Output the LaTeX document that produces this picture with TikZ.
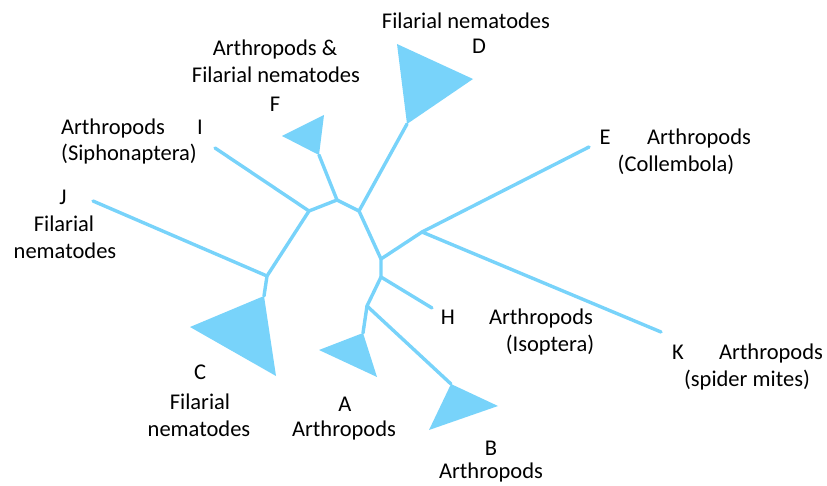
\documentclass[tikz,border=0pt]{standalone}
\usepackage{fontspec}
\setmainfont{Carlito}
\definecolor{tree}{RGB}{120,211,250}
\begin{document}
\begin{tikzpicture}[x=1pt,y=-1pt,
  branch/.style={draw=tree,line width=3.4pt,line cap=round,line join=round},
  clade/.style={fill=tree,draw=none},
  lbl/.style={anchor=base,inner sep=0pt,font=\fontsize{22.5}{27}\selectfont}]
\useasboundingbox (0,0) rectangle (827,486);
% internal junctions
\coordinate (n1) at (309,211);
\coordinate (n2) at (337,200);
\coordinate (n3) at (359,211);
\coordinate (n4) at (267,276);
\coordinate (n5) at (381,259);
\coordinate (n6) at (422,232);
\coordinate (n7) at (381,277);
\coordinate (n8) at (367,306);
% leaf ends and clade apices
\coordinate (I) at (215,148);
\coordinate (J) at (93,201);
\coordinate (E) at (589,147);
\coordinate (K) at (661,332);
\coordinate (H) at (432,308);
\coordinate (Fa) at (319,155);
\coordinate (Da) at (407,124);
\coordinate (Ca) at (264,296);
\coordinate (Aa) at (363,333);
\coordinate (Ba) at (451,384);
% clades
\fill[clade] (Fa) -- (282,136) -- (324,115) -- cycle;
\fill[clade] (Da) -- (397,44) -- (473,79) -- cycle;
\fill[clade] (Ca) -- (190,327) -- (276,376) -- cycle;
\fill[clade] (Aa) -- (319,350) -- (377,377) -- cycle;
\fill[clade] (Ba) -- (498,406) -- (429,430) -- cycle;
% branches
\draw[branch] (I) -- (n1) -- (n2) -- (n3) -- (n5) -- (n7) -- (n8) -- (Ba);
\draw[branch] (n2) -- (Fa);
\draw[branch] (n3) -- (Da);
\draw[branch] (n1) -- (n4) -- (Ca);
\draw[branch] (n4) -- (J);
\draw[branch] (n5) -- (n6) -- (E);
\draw[branch] (n6) -- (K);
\draw[branch] (n7) -- (H);
\draw[branch] (n8) -- (Aa);
% labels
\node[lbl] (D1) at (466,29) {Filarial nematodes};
\node[lbl] (D2) at (479,54) {D};
\node[lbl] (F1) at (275,56) {Arthropods \&};
\node[lbl] (F2) at (276,83) {Filarial nematodes};
\node[lbl] (F3) at (275,112) {F};
\node[lbl] (I1) at (113,135) {Arthropods};
\node[lbl] (I2) at (200,135) {I};
\node[lbl] (I3) at (129,161) {(Siphonaptera)};
\node[lbl] (J1) at (63,205) {J};
\node[lbl] (J2) at (64,232) {Filarial};
\node[lbl] (J3) at (65,259) {nematodes};
\node[lbl] (E1) at (605,145) {E};
\node[lbl] (E2) at (699,145) {Arthropods};
\node[lbl] (E3) at (676,172) {(Collembola)};
\node[lbl] (H1) at (448,324) {H};
\node[lbl] (H2) at (541,324) {Arthropods};
\node[lbl] (H3) at (550,351) {(Isoptera)};
\node[lbl] (K1) at (678,359) {K};
\node[lbl] (K2) at (771,359) {Arthropods};
\node[lbl] (K3) at (747,386) {(spider mites)};
\node[lbl] (C1) at (200,379) {C};
\node[lbl] (C2) at (200,409) {Filarial};
\node[lbl] (C3) at (199,436) {nematodes};
\node[lbl] (A1) at (345,411) {A};
\node[lbl] (A2) at (344,436) {Arthropods};
\node[lbl] (B1) at (491,455) {B};
\node[lbl] (B2) at (491,478) {Arthropods};
\end{tikzpicture}
\end{document}
